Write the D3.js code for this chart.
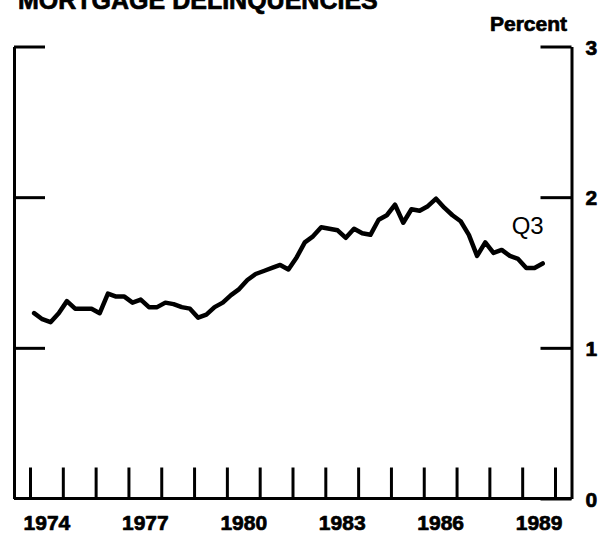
<!DOCTYPE html>
<html>
<head>
<meta charset="utf-8">
<script src="https://cdn.jsdelivr.net/npm/d3@7"></script>
<style>
  html, body { margin: 0; padding: 0; background: #fff; }
  svg { display: block; }
</style>
</head>
<body>
<svg id="chart" width="612" height="534"></svg>
<script>
// Quarterly mortgage delinquency rate, percent of loans, 1974:Q1 - 1989:Q3
const years = d3.range(1974, 1990);
const quarterlyRates = [
  [1.23, 1.19, 1.17, 1.23], // 1974
  [1.31, 1.26, 1.26, 1.26], // 1975
  [1.23, 1.36, 1.34, 1.34], // 1976
  [1.30, 1.32, 1.27, 1.27], // 1977
  [1.30, 1.29, 1.27, 1.26], // 1978
  [1.20, 1.22, 1.27, 1.30], // 1979
  [1.35, 1.39, 1.45, 1.49], // 1980
  [1.51, 1.53, 1.55, 1.52], // 1981
  [1.60, 1.70, 1.74, 1.80], // 1982
  [1.79, 1.78, 1.73, 1.79], // 1983
  [1.76, 1.75, 1.85, 1.88], // 1984
  [1.95, 1.83, 1.92, 1.91], // 1985
  [1.94, 1.99, 1.93, 1.88], // 1986
  [1.84, 1.75, 1.61, 1.70], // 1987
  [1.63, 1.65, 1.61, 1.59], // 1988
  [1.53, 1.53, 1.56]        // 1989
];
const yearTicks = d3.range(1974, 1991);
const yearLabels = [1974, 1977, 1980, 1983, 1986, 1989];
const valueTicks = [0, 1, 2, 3];
const titleText = "MORTGAGE DELINQUENCIES";
const unitText = "Percent";
const endLabel = "Q3";

// Flatten into points placed at the middle of each quarter
const series = [];
years.forEach((yr, i) => {
  quarterlyRates[i].forEach((v, q) => series.push({ t: yr + (q + 0.5) / 4, v }));
});

const svg = d3.select("#chart");
const frameLeft = 14, frameRight = 571.5, frameTop = 46.5, frameBottom = 498.5;
const x = d3.scaleLinear().domain([1974, 1990]).range([30, 555]);
const y = d3.scaleLinear().domain([0, 3]).range([frameBottom, frameTop]);

const ink = "#000";
const font = "'Liberation Sans', Arial, Helvetica, sans-serif";

// Heavy bold lettering used for the labels
function heavy(sel, size) {
  sel.attr("font-family", font).attr("font-size", size).attr("font-weight", "bold")
    .attr("fill", ink).attr("stroke", ink).attr("stroke-width", 0.7)
    .attr("stroke-linejoin", "round");
}

function styleAxis(g) {
  g.selectAll("path.domain").attr("stroke", ink).attr("stroke-width", 3);
  g.selectAll(".tick line").attr("stroke", ink).attr("stroke-width", 3);
  g.attr("font-family", font);
}

// Left frame edge with inward ticks at 1, 2, 3
svg.append("g")
  .attr("transform", `translate(${frameLeft},0)`)
  .call(d3.axisRight(y).tickValues([1, 2, 3]).tickSize(31).tickSizeOuter(0).tickFormat(""))
  .call(styleAxis);

// Right frame edge with inward ticks and the value labels
svg.append("g")
  .attr("transform", `translate(${frameRight},0)`)
  .call(d3.axisRight(y).tickValues(valueTicks).tickSize(-31).tickSizeOuter(0).tickPadding(14).tickFormat(d3.format("d")))
  .call(styleAxis)
  .call(g => g.selectAll("text").call(heavy, 21).attr("dy", "0.36em"));

// Bottom frame edge with a tick at every year boundary
svg.append("g")
  .attr("transform", `translate(0,${frameBottom})`)
  .call(d3.axisBottom(x).tickValues(yearTicks).tickSize(-31).tickSizeOuter(0).tickFormat(""))
  .call(styleAxis)
  .call(g => g.select("path.domain").attr("d", `M${frameLeft},0H${frameRight}`));

// Year labels centred within their year
svg.append("g")
  .attr("transform", `translate(0,${frameBottom})`)
  .call(d3.axisBottom(x).tickValues(yearLabels.map(d => d + 0.5)).tickSize(0).tickPadding(17)
    .tickFormat(d => String(Math.floor(d))))
  .call(g => g.select("path.domain").remove())
  .call(g => g.selectAll("text").call(heavy, 21));

// Data line
const line = d3.line().x(d => x(d.t)).y(d => y(d.v));
svg.append("path")
  .datum(series)
  .attr("d", line)
  .attr("fill", "none")
  .attr("stroke", ink)
  .attr("stroke-width", 4.5)
  .attr("stroke-linejoin", "round")
  .attr("stroke-linecap", "round");

// Title, unit and end-of-series label
svg.append("text")
  .attr("x", 18).attr("y", 9)
  .call(heavy, 25)
  .text(titleText);

svg.append("text")
  .attr("x", 567).attr("y", 31)
  .attr("text-anchor", "end")
  .call(heavy, 21)
  .text(unitText);

const last = series[series.length - 1];
svg.append("text")
  .attr("x", x(last.t) + 1).attr("y", y(last.v) - 29)
  .attr("text-anchor", "end")
  .attr("font-family", font).attr("font-size", 24)
  .attr("fill", ink)
  .text(endLabel);
</script>
</body>
</html>
